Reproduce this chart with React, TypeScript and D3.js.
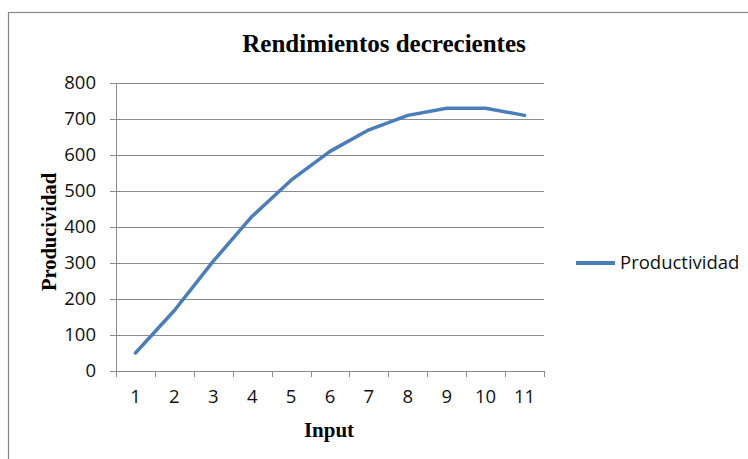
import React, { useRef, useEffect } from 'react';
import * as d3 from 'd3';

const categories = ['1', '2', '3', '4', '5', '6', '7', '8', '9', '10', '11'];
const productividad = [50, 168, 305, 430, 530, 610, 670, 710, 730, 730, 710];
const yTicks = [0, 100, 200, 300, 400, 500, 600, 700, 800];

const App = () => {
  const svgRef = useRef<SVGSVGElement>(null);

  useEffect(() => {
    const svg = d3.select(svgRef.current);
    svg.selectAll('*').remove();

    const plot = { left: 116, right: 544, top: 83, bottom: 371 };
    const tickFont = '"Open Sans", "Liberation Sans", sans-serif';
    const serif = '"Liberation Serif", "Times New Roman", serif';

    // outer chart border
    svg.append('rect')
      .attr('x', 8.5).attr('y', 12.5)
      .attr('width', 760).attr('height', 470)
      .attr('fill', 'none').attr('stroke', '#868686').attr('stroke-width', 1.2);

    const x = d3.scaleBand()
      .domain(categories)
      .range([plot.left, plot.right]);

    const y = d3.scaleLinear()
      .domain([0, 800])
      .range([plot.bottom, plot.top]);

    // gridlines
    svg.append('g')
      .selectAll('line')
      .data(yTicks)
      .enter().append('line')
      .attr('x1', plot.left - 6).attr('x2', plot.right)
      .attr('y1', d => Math.round(y(d)) + 0.5).attr('y2', d => Math.round(y(d)) + 0.5)
      .attr('stroke', '#8c8c8c').attr('stroke-width', 1);

    // y axis line
    svg.append('line')
      .attr('x1', plot.left + 0.5).attr('x2', plot.left + 0.5)
      .attr('y1', plot.top).attr('y2', plot.bottom)
      .attr('stroke', '#8c8c8c');

    // x tick marks
    const xEdges = categories.map(c => x(c) as number).concat([plot.right]);
    svg.append('g')
      .selectAll('line')
      .data(xEdges)
      .enter().append('line')
      .attr('x1', d => Math.round(d) + 0.5).attr('x2', d => Math.round(d) + 0.5)
      .attr('y1', plot.bottom).attr('y2', plot.bottom + 6)
      .attr('stroke', '#8c8c8c');

    // y tick labels
    svg.append('g')
      .selectAll('text')
      .data(yTicks)
      .enter().append('text')
      .attr('x', 96)
      .attr('y', d => y(d))
      .attr('dy', '0.35em')
      .attr('text-anchor', 'end')
      .attr('font-family', tickFont)
      .attr('font-size', 18.5)
      .attr('fill', '#111')
      .text(d => d);

    // x tick labels
    svg.append('g')
      .selectAll('text')
      .data(categories)
      .enter().append('text')
      .attr('x', d => (x(d) as number) + x.bandwidth() / 2)
      .attr('y', 397)
      .attr('dy', '0.35em')
      .attr('text-anchor', 'middle')
      .attr('font-family', tickFont)
      .attr('font-size', 18.5)
      .attr('fill', '#111')
      .text(d => d);

    // line
    const line = d3.line<number>()
      .x((d, i) => (x(categories[i]) as number) + x.bandwidth() / 2)
      .y(d => y(d));

    svg.append('path')
      .datum(productividad)
      .attr('fill', 'none')
      .attr('stroke', '#4a7ebb')
      .attr('stroke-width', 3.5)
      .attr('stroke-linecap', 'round')
      .attr('stroke-linejoin', 'round')
      .attr('d', line);

    // title
    svg.append('text')
      .attr('x', 384).attr('y', 52)
      .attr('text-anchor', 'middle')
      .attr('font-family', serif)
      .attr('font-weight', 'bold')
      .attr('font-size', 25)
      .text('Rendimientos decrecientes');

    // axis titles
    svg.append('text')
      .attr('transform', `translate(49, ${(plot.top + plot.bottom) / 2 + 5}) rotate(-90)`)
      .attr('text-anchor', 'middle')
      .attr('dy', '0.35em')
      .attr('font-family', serif)
      .attr('font-weight', 'bold')
      .attr('font-size', 20.5)
      .text('Producividad');

    svg.append('text')
      .attr('x', 329).attr('y', 437)
      .attr('text-anchor', 'middle')
      .attr('font-family', serif)
      .attr('font-weight', 'bold')
      .attr('font-size', 21)
      .text('Input');

    // legend
    svg.append('line')
      .attr('x1', 576).attr('x2', 615)
      .attr('y1', 263).attr('y2', 263)
      .attr('stroke', '#4a7ebb').attr('stroke-width', 4);

    svg.append('text')
      .attr('x', 620).attr('y', 263)
      .attr('dy', '0.35em')
      .attr('font-family', tickFont)
      .attr('font-size', 18.5)
      .attr('fill', '#111')
      .text('Productividad');
  }, []);

  return (
    <svg ref={svgRef} width={748} height={459}
      style={{ position: 'absolute', left: 0, top: 0, background: '#fff' }} />
  );
};

export default App;
